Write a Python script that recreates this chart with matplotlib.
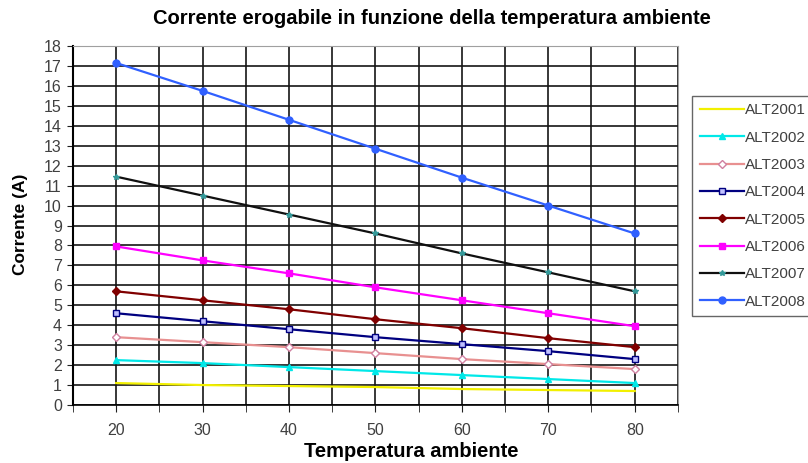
import matplotlib
matplotlib.use("Agg")
import matplotlib.pyplot as plt
from matplotlib.ticker import MultipleLocator, FixedLocator

plt.rcParams['font.family'] = ['Liberation Sans', 'DejaVu Sans']

temperature = [20, 30, 40, 50, 60, 70, 80]
series_names = ["ALT2001", "ALT2002", "ALT2003", "ALT2004",
                "ALT2005", "ALT2006", "ALT2007", "ALT2008"]
alt2001 = [1.1, 1.0, 0.95, 0.9, 0.8, 0.75, 0.7]
alt2002 = [2.25, 2.1, 1.9, 1.7, 1.5, 1.3, 1.1]
alt2003 = [3.4, 3.15, 2.9, 2.6, 2.3, 2.05, 1.8]
alt2004 = [4.6, 4.2, 3.8, 3.4, 3.05, 2.7, 2.3]
alt2005 = [5.7, 5.25, 4.8, 4.3, 3.85, 3.35, 2.9]
alt2006 = [7.95, 7.25, 6.6, 5.9, 5.25, 4.6, 3.95]
alt2007 = [11.45, 10.5, 9.55, 8.6, 7.6, 6.65, 5.7]
alt2008 = [17.15, 15.75, 14.3, 12.85, 11.4, 10.0, 8.6]
values = [alt2001, alt2002, alt2003, alt2004, alt2005, alt2006, alt2007, alt2008]

styles = [
    dict(color='#f2f000', marker='None'),
    dict(color='#00e8e8', marker='^', ms=4),
    dict(color='#e89090', marker='D', ms=4, mfc='white', mec='#d080a0'),
    dict(color='#000080', marker='s', ms=4, mfc='#c0c0ff', mec='#000080'),
    dict(color='#800000', marker='D', ms=4),
    dict(color='#ff00ff', marker='s', ms=4),
    dict(color='#101010', marker='*', ms=4, mfc='#339999', mec='#339999'),
    dict(color='#3060ff', marker='o', ms=5),
]

fig = plt.figure(figsize=(8.08, 4.63), dpi=100)
ax = fig.add_axes([0.0903, 0.1253, 0.839 - 0.0903, 0.9006 - 0.1253])

for name, vals, st in zip(series_names, values, styles):
    ax.plot(temperature, vals, label=name, lw=1.6, **st)

ax.set_xlim(15, 85)
ax.set_ylim(0, 18)
ax.xaxis.set_major_locator(FixedLocator(temperature))
ax.xaxis.set_minor_locator(MultipleLocator(5))
ax.yaxis.set_major_locator(MultipleLocator(1))
ax.grid(True, which='both', axis='x', color='#151515', lw=1.2)
ax.grid(True, which='major', axis='y', color='#151515', lw=1.2)
ax.set_axisbelow(True)

ax.tick_params(axis='both', which='both', direction='out', colors='#202020',
               labelcolor='#404040', labelsize=11.5)
ax.tick_params(axis='x', which='both', length=5, pad=8)
ax.tick_params(axis='y', length=4, pad=4)

ax.spines['left'].set_color('#000000')
ax.spines['bottom'].set_color('#000000')
ax.spines['left'].set_linewidth(1.5)
ax.spines['bottom'].set_linewidth(1.2)
ax.spines['top'].set_color('#a0a0a0')
ax.spines['right'].set_color('#a0a0a0')

fig.text(0.535, 0.960, "Corrente erogabile in funzione della temperatura ambiente",
         ha='center', va='center', fontsize=14.5, fontweight='bold')
fig.text(0.509, 0.024, "Temperatura ambiente", ha='center', va='center',
         fontsize=14.5, fontweight='bold')
fig.text(0.025, 0.515, "Corrente (A)", ha='center', va='center', rotation=90,
         fontsize=12.5, fontweight='bold')

leg = fig.legend(loc='upper left', bbox_to_anchor=(0.857, 0.793), fontsize=11,
                 frameon=True, fancybox=False, edgecolor='#404040',
                 handlelength=2.9, handletextpad=0.05, labelspacing=0.87,
                 borderpad=0.5, borderaxespad=0)
leg.get_frame().set_linewidth(1)
for t in leg.get_texts():
    t.set_color('#404040')

fig.savefig("out.png", dpi=100)
